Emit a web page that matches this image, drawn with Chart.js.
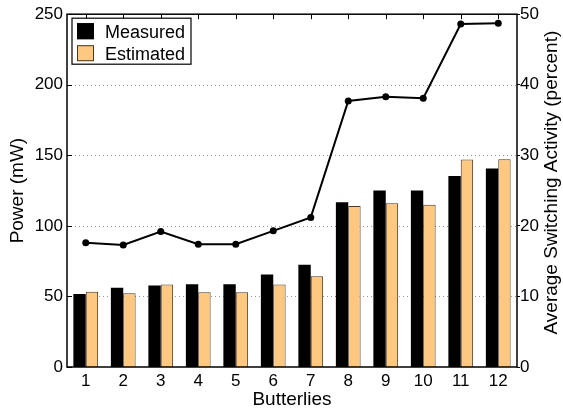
<!DOCTYPE html>
<html>
<head>
<meta charset="utf-8">
<script src="https://cdn.jsdelivr.net/npm/chart.js@4"></script>
<style>
html, body { margin: 0; padding: 0; background: #fff; }
#wrap { width: 563px; height: 411px; }
</style>
</head>
<body>
<div id="wrap"><canvas id="powerChart"></canvas></div>
<script>
// Datos
const butterflies = ["1", "2", "3", "4", "5", "6", "7", "8", "9", "10", "11", "12"];
const measuredPower = [51.7, 56.1, 57.8, 58.7, 58.7, 65.5, 72.5, 116.7, 125, 125, 135.4, 140.7];
const estimatedPower = [53.3, 52.2, 58.5, 52.9, 52.9, 58.5, 64.3, 114, 116, 115, 147, 147.3];
const switchingActivity = [17.6, 17.3, 19.2, 17.4, 17.4, 19.3, 21.2, 37.7, 38.3, 38.1, 48.6, 48.7];
const powerTicks = [0, 50, 100, 150, 200, 250];
const activityTicks = [0, 10, 20, 30, 40, 50];

const FONT = "'Liberation Sans', Arial, Helvetica, sans-serif";

// lineas de guia punteadas (detras de las barras)
const gridPlugin = {
    id: "dottedGrid",
    beforeDatasetsDraw(chart) {
        const ctx = chart.ctx;
        const a = chart.chartArea;
        const y = chart.scales.y;
        ctx.save();
        ctx.strokeStyle = "#9a9a9a";
        ctx.lineWidth = 1;
        ctx.setLineDash([1, 3]);
        ctx.beginPath();
        powerTicks.slice(1, -1).forEach((v) => {
            const py = Math.round(y.getPixelForValue(v)) + 0.5;
            ctx.moveTo(a.left, py);
            ctx.lineTo(a.right, py);
        });
        ctx.stroke();
        ctx.restore();
    },
};

// marco, marcas interiores, leyenda y titulo derecho
const framePlugin = {
    id: "frame",
    afterDraw(chart) {
        const ctx = chart.ctx;
        const a = chart.chartArea;
        const x = chart.scales.x;
        const y = chart.scales.y;
        ctx.save();
        ctx.strokeStyle = "#000";
        ctx.lineWidth = 1.5;
        ctx.strokeRect(a.left, a.top, a.right - a.left, a.bottom - a.top);

        ctx.lineWidth = 1;
        ctx.beginPath();
        butterflies.forEach((_, i) => {
            const px = Math.round(x.getPixelForValue(i)) + 0.5;
            ctx.moveTo(px, a.top);
            ctx.lineTo(px, a.top + 5);
        });
        powerTicks.forEach((v) => {
            const py = Math.round(y.getPixelForValue(v)) + 0.5;
            ctx.moveTo(a.left, py);
            ctx.lineTo(a.left + 5, py);
        });
        ctx.stroke();

        // leyenda
        const lx = a.left + 5, ly = a.top + 4;
        ctx.fillStyle = "#fff";
        ctx.fillRect(lx, ly, 119, 46);
        ctx.strokeStyle = "#000";
        ctx.lineWidth = 1.2;
        ctx.strokeRect(lx, ly, 119, 46);
        const items = [chart.data.datasets[1], chart.data.datasets[2]];
        ctx.font = "18px " + FONT;
        ctx.textBaseline = "alphabetic";
        items.forEach((ds, i) => {
            const sy = ly + 5 + i * 22;
            ctx.fillStyle = ds.backgroundColor;
            ctx.fillRect(lx + 5, sy, 17, 16);
            ctx.strokeStyle = ds.borderColor;
            ctx.lineWidth = 1;
            ctx.strokeRect(lx + 5.5, sy + 0.5, 16, 15);
            ctx.fillStyle = "#000";
            ctx.fillText(ds.label, lx + 33, sy + 15);
        });

        // titulo del eje derecho
        ctx.translate(552, (a.top + a.bottom) / 2 - 8);
        ctx.rotate(-Math.PI / 2);
        ctx.font = "19px " + FONT;
        ctx.textAlign = "center";
        ctx.textBaseline = "middle";
        ctx.fillStyle = "#000";
        ctx.fillText("Average Switching Activity (percent)", 0, 0);
        ctx.restore();
    },
};

const ctx = document.getElementById("powerChart").getContext("2d");

let chart = new Chart(ctx, {
    data: {
        labels: butterflies,
        datasets: [
            {
                type: "line",
                label: "Switching Activity",
                data: switchingActivity,
                yAxisID: "y1",
                borderColor: "#000",
                backgroundColor: "#000",
                borderWidth: 2,
                pointRadius: 3.5,
                pointBackgroundColor: "#000",
                pointBorderWidth: 0,
                tension: 0,
                order: 0,
            },
            {
                type: "bar",
                label: "Measured",
                data: measuredPower,
                yAxisID: "y",
                backgroundColor: "#000",
                borderColor: "#000",
                borderWidth: 0,
                categoryPercentage: 0.66,
                barPercentage: 1,
                order: 1,
            },
            {
                type: "bar",
                label: "Estimated",
                data: estimatedPower,
                yAxisID: "y",
                backgroundColor: "rgb(255, 200, 128)",
                borderColor: "#4a3a22",
                borderWidth: 1,
                categoryPercentage: 0.66,
                barPercentage: 1,
                order: 1,
            },
        ],
    },
    options: {
        responsive: true,
        maintainAspectRatio: false,
        animation: false,
        layout: { padding: { top: 11, left: 0, right: 0, bottom: 0 } },
        plugins: {
            legend: { display: false },
            tooltip: { enabled: false },
        },
        scales: {
            x: {
                offset: true,
                grid: { display: false, drawTicks: false },
                border: { display: false },
                ticks: { color: "#000", font: { family: FONT, size: 17 }, padding: 4 },
                title: {
                    display: true,
                    text: "Butterlies",
                    color: "#000",
                    font: { family: FONT, size: 19 },
                    padding: { top: 0, bottom: 0 },
                },
                afterFit(scale) { scale.height = 44; },
            },
            y: {
                position: "left",
                min: 0,
                max: 250,
                afterBuildTicks(scale) { scale.ticks = powerTicks.map((v) => ({ value: v })); },
                grid: { display: false, drawTicks: false },
                border: { display: false },
                ticks: { color: "#000", font: { family: FONT, size: 17 }, padding: 4 },
                title: {
                    display: true,
                    text: "Power (mW)",
                    color: "#000",
                    font: { family: FONT, size: 19 },
                    padding: { top: 6, bottom: 0 },
                },
                afterFit(scale) { scale.width = 67; },
            },
            y1: {
                position: "right",
                min: 0,
                max: 50,
                afterBuildTicks(scale) { scale.ticks = activityTicks.map((v) => ({ value: v })); },
                grid: { drawOnChartArea: false, tickLength: 3, color: "#000" },
                border: { display: false },
                ticks: { color: "#000", font: { family: FONT, size: 17 }, padding: 0 },
                afterFit(scale) { scale.width = 46; },
            },
        },
    },
    plugins: [gridPlugin, framePlugin],
});
</script>
</body>
</html>
